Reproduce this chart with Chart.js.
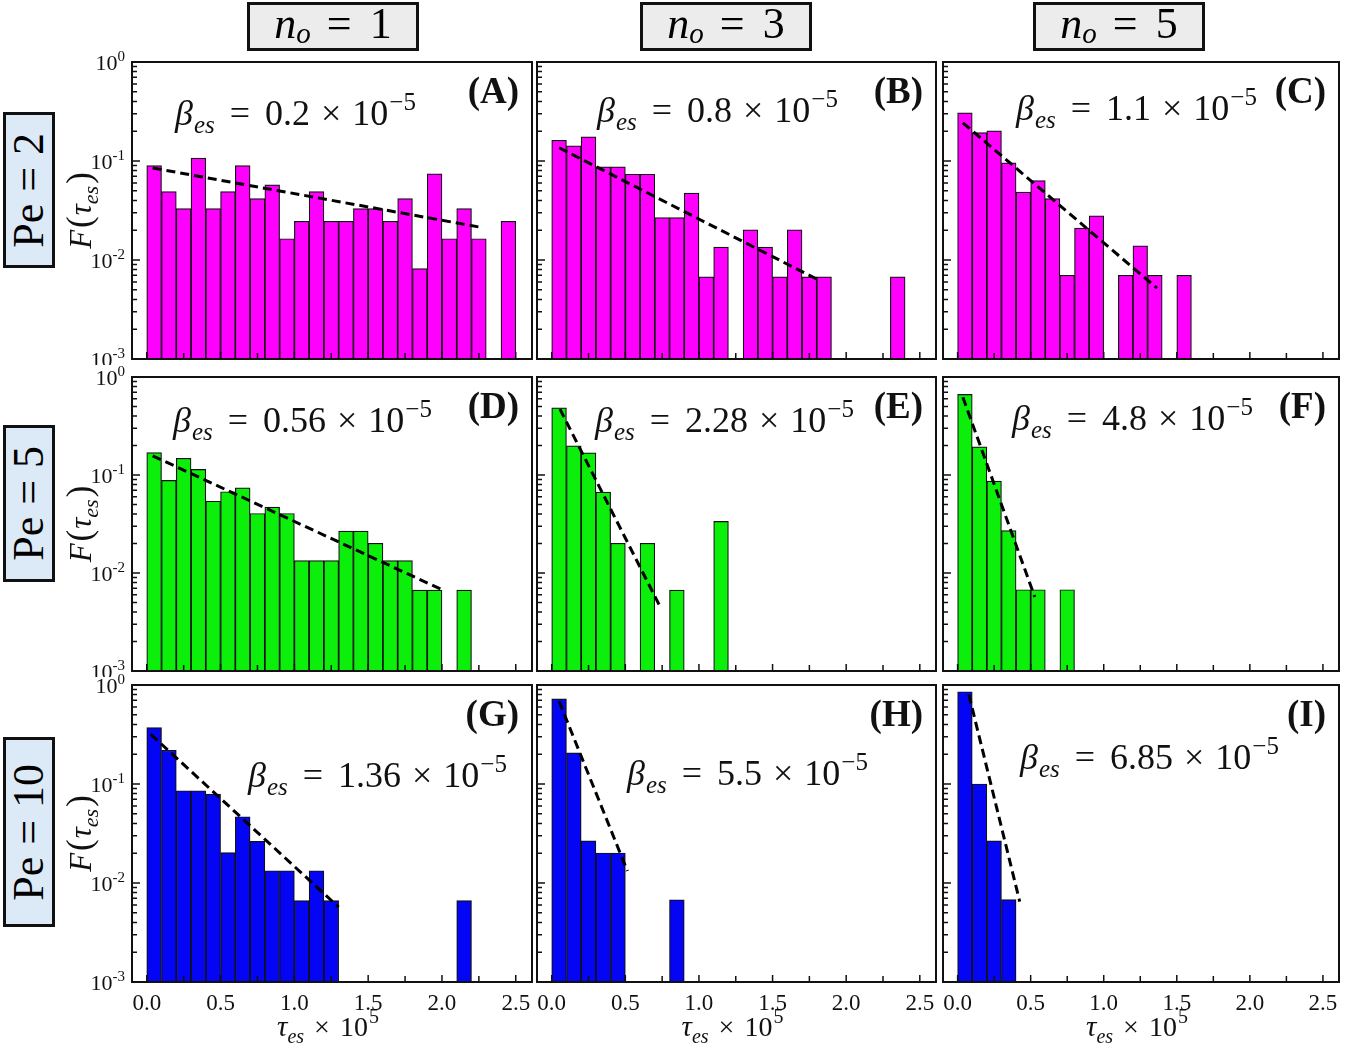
<!DOCTYPE html>
<html>
<head>
<meta charset="utf-8">
<script src="https://cdn.jsdelivr.net/npm/chart.js@4.4.1/dist/chart.umd.min.js"></script>
<style>
    body { margin: 0; background: #fff; width: 1372px; height: 1049px; position: relative; overflow: hidden;
           font-family: "Liberation Serif", "Times New Roman", serif; }
    canvas { position: absolute; }
    .hdr { position: absolute; top: 2px; width: 172px; height: 49px; box-sizing: border-box;
           border: 3px solid #111; background: #ececec; display: flex; align-items: center;
           justify-content: center; font-size: 44px; line-height: 1; padding-bottom: 5px; }
    .hdr sub { font-size: 29px; position: relative; top: 9px; vertical-align: baseline; }
    .hdr .eq { margin: 0 18px 0 16px; }
    .pe { position: absolute; left: 3px; width: 52px; box-sizing: border-box; border: 3px solid #111;
          background: #dce9f6; display: flex; align-items: center; justify-content: center; }
    .pe span { writing-mode: vertical-rl; transform: rotate(180deg); font-size: 44px; white-space: nowrap; line-height: 1; }
    .pe .eq { margin: 12px 0; }
</style>
</head>
<body>
<script>
/* ═══════════════════════════════════════════════════
   Histograme F(tau_es) — 3 x 3 panouri, axa y logaritmica
   ═══════════════════════════════════════════════════ */

// ─────────────────────────────────────────
//  DATE
// ─────────────────────────────────────────
const tauBins = [0.05, 0.15, 0.25, 0.35, 0.45, 0.55, 0.65, 0.75, 0.85, 0.95,
                 1.05, 1.15, 1.25, 1.35, 1.45, 1.55, 1.65, 1.75, 1.85, 1.95,
                 2.05, 2.15, 2.25, 2.35, 2.45];

const F_A = [0.090, 0.049, 0.033, 0.107, 0.033, 0.049, 0.090, 0.0417, 0.0575, 0.0164,
             0.0246, 0.049, 0.0246, 0.0246, 0.033, 0.033, 0.0246, 0.0417, 0.0082, 0.074,
             0.0164, 0.033, 0.0164, null, 0.0246];
const F_B = [0.162, 0.142, 0.175, 0.0874, 0.0874, 0.0735, 0.0735, 0.0268, 0.0268, 0.0473,
             0.00675, 0.0135, null, 0.0202, 0.0135, 0.00675, 0.0202, 0.00675, 0.00675, null,
             null, null, null, 0.00675, null];
const F_C = [0.306, 0.194, 0.202, 0.096, 0.0484, 0.0633, 0.0417, 0.0070, 0.0210, 0.0279,
             null, 0.0070, 0.0139, 0.0070, null, 0.0070];
const F_D = [0.169, 0.088, 0.148, 0.114, 0.054, 0.0675, 0.074, 0.0405, 0.047, 0.0405,
             0.0134, 0.0134, 0.0134, 0.0267, 0.0267, 0.0201, 0.0134, 0.0134, 0.0067, 0.0067,
             null, 0.0067];
const F_E = [0.485, 0.198, 0.168, 0.067, 0.0201, null, 0.0201, null, 0.0067, null,
             null, 0.0336];
const F_F = [0.665, 0.194, 0.0868, 0.0271, 0.00675, 0.00675, null, 0.00675];
const F_G = [0.371, 0.219, 0.0855, 0.0855, 0.079, 0.0203, 0.0467, 0.0263, 0.0133, 0.0133,
             0.00665, 0.0133, 0.00665, null, null, null, null, null, null, null,
             null, 0.00665];
const F_H = [0.724, 0.206, 0.0267, 0.0201, 0.0201, null, null, null, 0.00675];
const F_I = [0.855, 0.100, 0.0267, 0.0068];

// linii de fit exponential: [tau, F] la capete
const fitA = [[0.04, 0.085], [2.27, 0.0213]];
const fitB = [[0.05, 0.136], [1.81, 0.0063]];
const fitC = [[0.036, 0.243], [1.364, 0.0052]];
const fitD = [[0.04, 0.157], [2.00, 0.00675]];
const fitE = [[0.056, 0.47], [0.734, 0.0046]];
const fitF = [[0.036, 0.62], [0.528, 0.0057]];
const fitG = [[0.027, 0.318], [1.30, 0.0057]];
const fitH = [[0.05, 0.685], [0.514, 0.0132]];
const fitI = [[0.077, 0.80], [0.425, 0.0065]];

const betaValues = ['0.2', '0.8', '1.1', '0.56', '2.28', '4.8', '1.36', '5.5', '6.85'];
const panelLetters = ['A', 'B', 'C', 'D', 'E', 'F', 'G', 'H', 'I'];
const noValues = [1, 3, 5];
const peValues = [2, 5, 10];

const xTickLabels = ['0.0', '0.5', '1.0', '1.5', '2.0', '2.5'];
const xMajor = [0, 0.5, 1.0, 1.5, 2.0, 2.5];
const xMinor = [0.25, 0.75, 1.25, 1.75, 2.25];
const yMajor = [1, 0.1, 0.01, 0.001];
const yExp = ['0', '-1', '-2', '-3'];

// ─────────────────────────────────────────
//  LAYOUT
// ─────────────────────────────────────────
const SERIF = '"Liberation Serif", "Times New Roman", serif';
const rowColors = ['#ff00ff', '#0bef0b', '#0505f5'];
const colLeft = [132, 537, 943];
const colW = [400, 399, 396];
const rowTop = [62, 377, 685];
const rowH = [297, 294, 297];
const PAD = { left: 95, top: 12, right: 8, bottom: 66 };
// pozitia textului beta (fata de coltul stanga-sus al panoului)
const betaPos = [[43, 51], [60, 48], [73, 46], [41, 43], [58, 43], [69, 41], [116, 90], [90, 88], [77, 72]];

const allValues = [F_A, F_B, F_C, F_D, F_E, F_F, F_G, F_H, F_I];
const allFits = [fitA, fitB, fitC, fitD, fitE, fitF, fitG, fitH, fitI];

// ─────────────────────────────────────────
//  HELPER: text compus din bucati (italic, indici)
// ─────────────────────────────────────────
function drawRuns(ctx, runs, x, y, align) {
    let w = 0;
    runs.forEach(r => {
        ctx.font = r.font;
        r.w = ctx.measureText(r.t).width;
        w += (r.pre || 0) + r.w;
    });
    let cx = align === 'center' ? x - w / 2 : align === 'right' ? x - w : x;
    runs.forEach(r => {
        cx += r.pre || 0;
        ctx.font = r.font;
        ctx.fillText(r.t, cx, y + (r.dy || 0));
        cx += r.w;
    });
}

function betaRuns(val, s) {
    const sm = Math.round(s * 0.7);
    return [
        { t: 'β', font: `italic ${s}px ${SERIF}` },
        { t: 'es', font: `italic ${sm}px ${SERIF}`, dy: s * 0.22, pre: 1 },
        { t: '=', font: `${s}px ${SERIF}`, pre: 15 },
        { t: val, font: `${s}px ${SERIF}`, pre: 15 },
        { t: '×', font: `${s}px ${SERIF}`, pre: 11 },
        { t: '10', font: `${s}px ${SERIF}`, pre: 11 },
        { t: '−5', font: `${sm}px ${SERIF}`, dy: -s * 0.42, pre: 1 },
    ];
}

// ─────────────────────────────────────────
//  PLUGIN: cadru, tick-uri interioare, etichete
// ─────────────────────────────────────────
const panelDeco = {
    id: 'panelDeco',
    afterDraw(chart, args, o) {
        const ctx = chart.ctx;
        const a = chart.chartArea;
        const xs = chart.scales.x, ys = chart.scales.y;
        ctx.save();
        ctx.strokeStyle = '#111';
        ctx.fillStyle = '#111';

        // tick-uri x (in interior)
        ctx.lineWidth = 1.5;
        ctx.beginPath();
        xMajor.forEach(v => { const px = xs.getPixelForValue(v); ctx.moveTo(px, a.bottom); ctx.lineTo(px, a.bottom - 7); });
        xMinor.forEach(v => { const px = xs.getPixelForValue(v); ctx.moveTo(px, a.bottom); ctx.lineTo(px, a.bottom - 6); });
        // tick-uri y (decade + minore)
        yMajor.forEach(v => { const py = ys.getPixelForValue(v); ctx.moveTo(a.left, py); ctx.lineTo(a.left + 8, py); });
        [0.001, 0.01, 0.1].forEach(dec => {
            for (let m = 2; m <= 9; m++) {
                const py = ys.getPixelForValue(dec * m);
                ctx.moveTo(a.left, py); ctx.lineTo(a.left + 5, py);
            }
        });
        ctx.stroke();

        // cadru
        ctx.lineWidth = 2;
        ctx.strokeRect(a.left, a.top, a.right - a.left, a.bottom - a.top);

        ctx.textBaseline = 'alphabetic';
        ctx.textAlign = 'left';

        // litera panoului
        drawRuns(ctx, [{ t: '(' + o.letter + ')', font: `bold 37px ${SERIF}` }], a.right - 13, a.top + 41, 'right');

        // beta
        drawRuns(ctx, betaRuns(o.beta, 36), a.left + o.betaPos[0], a.top + o.betaPos[1] + 12, 'left');

        // axa y: etichete + titlu (doar coloana 1)
        if (o.col === 0) {
            ctx.save();
            if (o.row < 2) {
                ctx.beginPath();
                ctx.rect(0, 0, chart.width, a.bottom + 6);
                ctx.clip();
            }
            yMajor.forEach((v, i) => {
                const py = ys.getPixelForValue(v);
                drawRuns(ctx, [
                    { t: '10', font: `22px ${SERIF}` },
                    { t: yExp[i], font: `15px ${SERIF}`, dy: -9 },
                ], a.left - 7, py + 8, 'right');
            });
            ctx.restore();

            ctx.save();
            ctx.translate(a.left - 52, (a.top + a.bottom) / 2);
            ctx.rotate(-Math.PI / 2);
            drawRuns(ctx, [
                { t: 'F', font: `italic 31px ${SERIF}` },
                { t: '(', font: `35px ${SERIF}`, pre: 2 },
                { t: 'τ', font: `italic 31px ${SERIF}`, pre: 1 },
                { t: 'es', font: `italic 22px ${SERIF}`, dy: 7 },
                { t: ')', font: `35px ${SERIF}`, pre: 2 },
            ], 0, 11, 'center');
            ctx.restore();
        }

        // axa x: etichete + titlu (doar ultimul rand)
        if (o.row === 2) {
            xMajor.forEach((v, i) => {
                drawRuns(ctx, [{ t: xTickLabels[i], font: `23px ${SERIF}` }], xs.getPixelForValue(v), a.bottom + 28, 'center');
            });
            drawRuns(ctx, [
                { t: 'τ', font: `italic 29px ${SERIF}` },
                { t: 'es', font: `italic 20px ${SERIF}`, dy: 7 },
                { t: '×', font: `28px ${SERIF}`, pre: 10 },
                { t: '10', font: `28px ${SERIF}`, pre: 10 },
                { t: '5', font: `20px ${SERIF}`, dy: -13, pre: 1 },
            ], (a.left + a.right) / 2 - 4, a.bottom + 54, 'center');
        }
        ctx.restore();
    }
};

// ─────────────────────────────────────────
//  PANOURI
// ─────────────────────────────────────────
allValues.forEach(function (vals, k) {
    const row = Math.floor(k / 3), col = k % 3;
    const canvas = document.createElement('canvas');
    const W = colW[col] + PAD.left + PAD.right;
    const H = rowH[row] + PAD.top + PAD.bottom;
    canvas.width = W;
    canvas.height = H;
    canvas.style.left = (colLeft[col] - PAD.left) + 'px';
    canvas.style.top = (rowTop[row] - PAD.top) + 'px';
    canvas.style.width = W + 'px';
    canvas.style.height = H + 'px';
    document.body.appendChild(canvas);

    const bars = [];
    vals.forEach((v, i) => { if (v !== null) bars.push({ x: tauBins[i], y: v }); });
    const fit = allFits[k].map(p => ({ x: p[0], y: p[1] }));

    new Chart(canvas, {
        type: 'bar',
        data: {
            datasets: [
                {
                    type: 'line',
                    data: fit,
                    borderColor: '#000',
                    borderWidth: 3,
                    borderDash: [9, 5],
                    pointRadius: 0,
                    fill: false,
                    order: 0,
                },
                {
                    type: 'bar',
                    data: bars,
                    backgroundColor: rowColors[row],
                    borderColor: '#111',
                    borderWidth: 1.2,
                    borderSkipped: false,
                    barPercentage: 1,
                    categoryPercentage: 1,
                    order: 1,
                },
            ],
        },
        options: {
            responsive: false,
            animation: false,
            events: [],
            devicePixelRatio: 1,
            layout: { padding: PAD },
            plugins: {
                legend: { display: false },
                tooltip: { enabled: false },
                panelDeco: { row: row, col: col, letter: panelLetters[k], beta: betaValues[k], betaPos: betaPos[k] },
            },
            scales: {
                x: { type: 'linear', min: -0.1, max: 2.61, display: false, offset: false, grid: { offset: false } },
                y: { type: 'logarithmic', min: 0.001, max: 1, display: false },
            },
        },
        plugins: [panelDeco],
    });
});

// ─────────────────────────────────────────
//  ETICHETE COLOANE / RANDURI
// ─────────────────────────────────────────
const hdrLeft = [247, 640, 1033];
noValues.forEach((n, i) => {
    const d = document.createElement('div');
    d.className = 'hdr';
    d.style.left = hdrLeft[i] + 'px';
    d.innerHTML = '<i>n</i><sub><i>o</i></sub><span class="eq">=</span>' + n;
    document.body.appendChild(d);
});

const peTop = [112, 425, 737];
const peH = [156, 157, 190];
peValues.forEach((pe, i) => {
    const d = document.createElement('div');
    d.className = 'pe';
    d.style.top = peTop[i] + 'px';
    d.style.height = peH[i] + 'px';
    d.innerHTML = '<span>Pe<span class="eq">=</span>' + pe + '</span>';
    document.body.appendChild(d);
});
</script>
</body>
</html>
